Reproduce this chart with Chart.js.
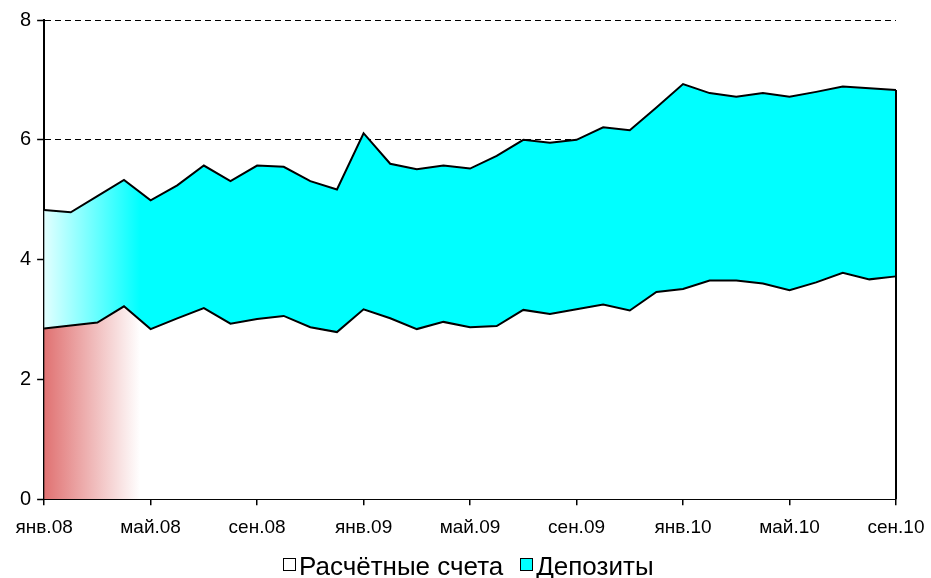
<!DOCTYPE html>
<html>
<head>
<meta charset="utf-8">
<script src="https://cdn.jsdelivr.net/npm/chart.js@4/dist/chart.umd.min.js"></script>
<style>
  html, body { margin: 0; padding: 0; background: #fff; }
  #wrap { position: relative; width: 931px; height: 578px; overflow: hidden; }
  #legend {
    position: absolute; left: 283px; top: 551px;
    font-family: "Liberation Sans", Arial, sans-serif; font-size: 26px; line-height: 30px;
    color: #000; white-space: nowrap;
  }
  #legend .item { display: inline-block; margin-right: 17px; }
  #legend .box {
    display: inline-block; width: 11px; height: 11px; border: 1px solid #000;
    margin-right: 3px; vertical-align: 4px;
  }
</style>
</head>
<body>
<div id="wrap"><canvas id="chart"></canvas><div id="legend"></div></div>
<script>
const months = [
  'янв.08', 'фев.08', 'мар.08', 'апр.08', 'май.08', 'июн.08', 'июл.08', 'авг.08', 'сен.08', 'окт.08', 'ноя.08', 'дек.08',
  'янв.09', 'фев.09', 'мар.09', 'апр.09', 'май.09', 'июн.09', 'июл.09', 'авг.09', 'сен.09', 'окт.09', 'ноя.09', 'дек.09',
  'янв.10', 'фев.10', 'мар.10', 'апр.10', 'май.10', 'июн.10', 'июл.10', 'авг.10', 'сен.10'
];
const currentAccounts = [
  2.85, 2.90, 2.95, 3.22, 2.84, 3.02, 3.19, 2.93, 3.01, 3.06, 2.87, 2.79,
  3.17, 3.02, 2.84, 2.96, 2.87, 2.89, 3.16, 3.09, 3.17, 3.25, 3.15, 3.46,
  3.51, 3.65, 3.65, 3.60, 3.49, 3.62, 3.78, 3.67, 3.72
];
const deposits = [
  1.98, 1.89, 2.11, 2.11, 2.15, 2.22, 2.38, 2.38, 2.56, 2.49, 2.44, 2.38,
  2.94, 2.58, 2.67, 2.61, 2.65, 2.84, 2.84, 2.86, 2.83, 2.96, 3.01, 3.08,
  3.42, 3.13, 3.07, 3.18, 3.23, 3.18, 3.11, 3.19, 3.11
];
const yTicks = [0, 2, 4, 6, 8];
const seriesNames = ['Расчётные счета', 'Депозиты'];
const legendFills = ['#ffffff', '#00ffff'];

const FONT = '"Liberation Sans", Arial, sans-serif';

// horizontal fade on the left part of each area
function fade(fromColor, toColor) {
  return function (context) {
    const chart = context.chart;
    const area = chart.chartArea;
    if (!area) return toColor;
    const g = chart.ctx.createLinearGradient(area.left, 0, area.left + 96, 0);
    g.addColorStop(0, fromColor);
    g.addColorStop(1, toColor);
    return g;
  };
}

// vertical edge of the stacked area on the right side
const rightEdge = {
  id: 'rightEdge',
  afterDatasetsDraw(chart) {
    const meta = chart.getDatasetMeta(1);
    const last = meta.data[meta.data.length - 1];
    if (!last) return;
    const y0 = chart.scales.y.getPixelForValue(0);
    const c = chart.ctx;
    c.save();
    c.strokeStyle = '#000';
    c.lineWidth = 2;
    c.beginPath();
    c.moveTo(last.x, last.y);
    c.lineTo(last.x, y0);
    c.stroke();
    c.restore();
  }
};

// legend as plain html, built from the series names
const legendEl = document.getElementById('legend');
seriesNames.forEach((name, i) => {
  const item = document.createElement('span');
  item.className = 'item';
  const box = document.createElement('span');
  box.className = 'box';
  box.style.background = legendFills[i];
  item.appendChild(box);
  item.appendChild(document.createTextNode(name));
  legendEl.appendChild(item);
});

const ctx = document.getElementById('chart').getContext('2d');
new Chart(ctx, {
  type: 'line',
  data: {
    labels: months,
    datasets: [
      {
        label: seriesNames[0],
        data: currentAccounts,
        borderColor: '#000',
        borderWidth: 2,
        backgroundColor: fade('#e07272', '#ffffff'),
        fill: 'origin',
        pointRadius: 0,
        tension: 0
      },
      {
        label: seriesNames[1],
        data: deposits,
        borderColor: '#000',
        borderWidth: 2,
        backgroundColor: fade('#e2ffff', '#00ffff'),
        fill: '-1',
        pointRadius: 0,
        tension: 0
      }
    ]
  },
  options: {
    responsive: true,
    maintainAspectRatio: false,
    animation: false,
    layout: { padding: { left: 14, right: 0, top: 20, bottom: 28 } },
    plugins: {
      tooltip: { enabled: false },
      legend: { display: false }
    },
    scales: {
      x: {
        offset: false,
        // tick padding also widens the right gutter; keep it to the label half-width
        afterFit(scale) {
          scale.paddingRight = 35;
        },
        grid: {
          drawOnChartArea: false,
          color: '#000',
          tickLength: 6,
          lineWidth: 1.5
        },
        border: { color: '#000', width: 2 },
        ticks: {
          autoSkip: false,
          maxRotation: 0,
          color: '#000',
          font: { family: FONT, size: 19 },
          padding: 11,
          callback(value, index) {
            return index % 4 === 0 ? months[index] : null;
          }
        }
      },
      y: {
        stacked: true,
        min: 0,
        max: 8,
        afterBuildTicks(axis) {
          axis.ticks = yTicks.map(v => ({ value: v }));
        },
        grid: {
          color: '#000',
          lineWidth: 1,
          tickLength: 7,
          tickWidth: 1.5,
          tickBorderDash: []
        },
        border: { color: '#000', width: 2, dash: [6, 4] },
        ticks: {
          color: '#000',
          font: { family: FONT, size: 20 },
          padding: 6
        }
      }
    }
  },
  plugins: [rightEdge]
});
</script>
</body>
</html>
